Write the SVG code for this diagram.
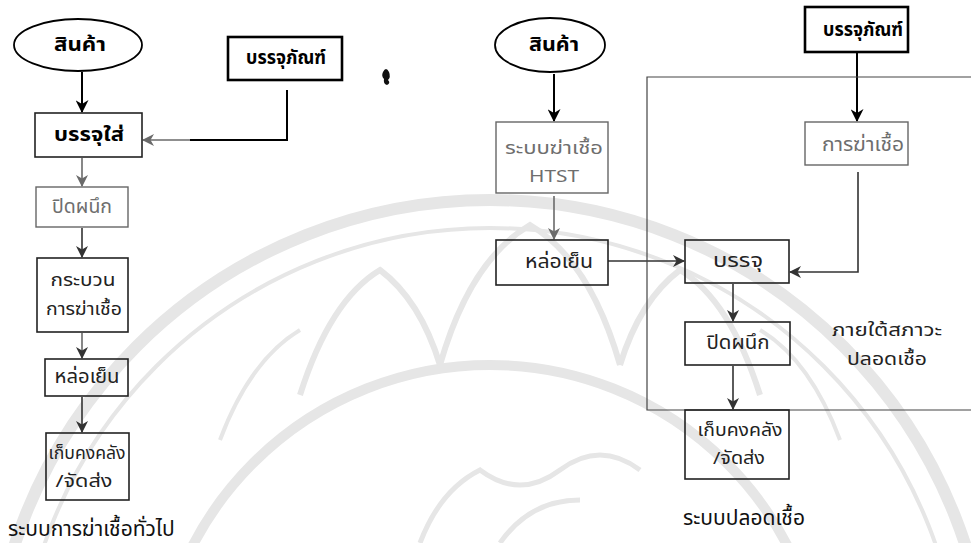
<svg xmlns="http://www.w3.org/2000/svg" width="971" height="543" viewBox="0 0 971 543">
  <defs>
    <style>
      .lbl { font-family: "Noto Sans Thai", "Noto Sans", "DejaVu Sans", sans-serif; font-size: 19px; text-anchor: middle; dominant-baseline: central; fill: #222; }
      .two { font-size: 17px; }
      .bold { font-weight: bold; font-size: 19px; fill: #000; }
      .grey { fill: #6e6e6e; }
      .cap { font-family: "Noto Sans Thai", "Noto Sans", "DejaVu Sans", sans-serif; font-size: 21px; dominant-baseline: central; fill: #111; }
      .box { fill: none; stroke: #222; stroke-width: 1.6; }
      .boxg { fill: none; stroke: #666; stroke-width: 1.4; }
      .thick { fill: none; stroke: #000; stroke-width: 2.6; }
      .edge { fill: none; stroke: #333; stroke-width: 1.6; }
      .edgek { fill: none; stroke: #000; stroke-width: 2; }
      .edgeg { fill: none; stroke: #6a6a6a; stroke-width: 1.6; }
      .frame { fill: none; stroke: #444; stroke-width: 1.2; }
      .wm { fill: none; stroke: #e6e6e6; }
    </style>
    <marker id="ah" viewBox="0 0 12 12" refX="11" refY="6" markerWidth="12" markerHeight="12" markerUnits="userSpaceOnUse" orient="auto">
      <path d="M0,0 L12,6 L0,12 L3.5,6 z" fill="#333"/>
    </marker>
    <marker id="ahk" viewBox="0 0 12 12" refX="11" refY="6" markerWidth="13" markerHeight="13" markerUnits="userSpaceOnUse" orient="auto">
      <path d="M0,0 L12,6 L0,12 L3.5,6 z" fill="#000"/>
    </marker>
    <marker id="ahg" viewBox="0 0 12 12" refX="11" refY="6" markerWidth="12" markerHeight="12" markerUnits="userSpaceOnUse" orient="auto">
      <path d="M0,0 L12,6 L0,12 L3.5,6 z" fill="#6a6a6a"/>
    </marker>
  </defs>

  <rect width="971" height="543" fill="#fff"/>

  <!-- faint emblem in the background -->
  <g id="watermark">
    <circle class="wm" cx="490" cy="700" r="500" stroke-width="12"/>
    <circle class="wm" cx="490" cy="700" r="472" stroke-width="4"/>
    <circle class="wm" cx="490" cy="700" r="335" stroke-width="10"/>
    <path class="wm" stroke-width="6" d="M300,395 Q330,300 380,270 Q420,300 440,365 M440,365 Q470,260 530,225 Q590,260 620,365 M620,365 Q640,300 680,270 Q730,300 760,395"/>
    <path class="wm" stroke-width="4" d="M220,440 Q250,360 300,330 M760,330 Q810,360 840,440"/>
    <path class="wm" stroke-width="5" d="M420,543 Q440,490 480,470 Q520,500 560,470 Q600,440 640,470 M500,543 Q530,500 580,500"/>
  </g>

  <!-- stray ink speck -->
  <path d="M383,72 Q386,66 389,72 Q391,77 388,80 Q391,83 387,85 Q383,84 384,79 Q381,76 383,72 z" fill="#111"/>

  <!-- connectors -->
  <g id="connectors">
    <!-- general sterilization flow -->
    <line class="edgek" x1="82" y1="72" x2="82" y2="112" marker-end="url(#ahk)"/>
    <polyline class="edgek" points="287,90 287,140 190,140" />
    <line class="edgeg" x1="190" y1="140" x2="143" y2="140" marker-end="url(#ahg)"/>
    <line class="edgeg" x1="82" y1="158" x2="82" y2="186" marker-end="url(#ahg)"/>
    <line class="edge" x1="82" y1="228" x2="82" y2="257" marker-end="url(#ah)"/>
    <line class="edgeg" x1="82" y1="333" x2="82" y2="358" marker-end="url(#ah)"/>
    <line class="edge" x1="82" y1="397" x2="82" y2="432" marker-end="url(#ah)"/>

    <!-- aseptic flow -->
    <line class="edgek" x1="554" y1="74" x2="554" y2="121" marker-end="url(#ahk)"/>
    <line class="edgeg" x1="554" y1="196" x2="554" y2="239" marker-end="url(#ahg)"/>
    <line class="edge" x1="608" y1="261" x2="684" y2="261" marker-end="url(#ah)"/>
    <line class="edgek" x1="857" y1="52" x2="857" y2="121" marker-end="url(#ahk)"/>
    <polyline class="edge" points="858,172 858,272 790,272" marker-end="url(#ah)"/>
    <line class="edge" x1="733" y1="284" x2="733" y2="321" marker-end="url(#ah)"/>
    <line class="edge" x1="733" y1="366" x2="733" y2="409" marker-end="url(#ah)"/>

    <!-- aseptic zone boundary -->
    <polyline class="frame" points="971,77 647,77 647,410 971,410"/>
  </g>

  <!-- general sterilization nodes -->
  <g id="product-a">
    <ellipse cx="78" cy="45" rx="64" ry="26" fill="#fff" stroke="#000" stroke-width="1.8"/>
    <text class="lbl bold" x="80" y="45" textLength="52" lengthAdjust="spacingAndGlyphs">สินค้า</text>
  </g>
  <g id="package-a">
    <rect class="thick" x="228" y="37" width="114" height="43"/>
    <text class="lbl bold" x="286" y="58" textLength="80" lengthAdjust="spacingAndGlyphs">บรรจุภัณฑ์</text>
  </g>
  <g id="fill-a">
    <rect class="box" x="35" y="113" width="107" height="44"/>
    <text class="lbl bold" x="89" y="135" textLength="70" lengthAdjust="spacingAndGlyphs">บรรจุใส่</text>
  </g>
  <g id="seal-a">
    <rect class="boxg" x="36" y="187" width="92" height="40"/>
    <text class="lbl grey" x="82" y="207" textLength="60" lengthAdjust="spacingAndGlyphs">ปิดผนึก</text>
  </g>
  <g id="sterilize-a">
    <rect class="box" x="37" y="258" width="91" height="74"/>
    <text class="lbl two" x="83" y="281" textLength="65" lengthAdjust="spacingAndGlyphs">กระบวน</text>
    <text class="lbl two" x="84" y="310" textLength="76" lengthAdjust="spacingAndGlyphs">การฆ่าเชื้อ</text>
  </g>
  <g id="cool-a">
    <rect class="box" x="45" y="359" width="83" height="37"/>
    <text class="lbl" x="87" y="377" textLength="65" lengthAdjust="spacingAndGlyphs">หล่อเย็น</text>
  </g>
  <g id="store-a">
    <rect class="box" x="46" y="433" width="83" height="67"/>
    <text class="lbl two" x="87" y="454" textLength="77" lengthAdjust="spacingAndGlyphs">เก็บคงคลัง</text>
    <text class="lbl two" x="84" y="482" textLength="57" lengthAdjust="spacingAndGlyphs">/จัดส่ง</text>
  </g>
  <text class="cap" x="8" y="529">ระบบการฆ่าเชื้อทั่วไป</text>

  <!-- aseptic nodes -->
  <g id="product-b">
    <ellipse cx="550" cy="45" rx="55" ry="27" fill="#fff" stroke="#000" stroke-width="1.8"/>
    <text class="lbl bold" x="554" y="45" textLength="50" lengthAdjust="spacingAndGlyphs">สินค้า</text>
  </g>
  <g id="htst">
    <rect class="boxg" x="496" y="122" width="112" height="71"/>
    <text class="lbl grey two" x="554" y="149" textLength="98" lengthAdjust="spacingAndGlyphs">ระบบฆ่าเชื้อ</text>
    <text class="lbl grey two" x="554" y="177" textLength="50" lengthAdjust="spacingAndGlyphs">HTST</text>
  </g>
  <g id="cool-b">
    <rect class="box" x="496" y="240" width="112" height="45"/>
    <text class="lbl" x="559" y="262" textLength="68" lengthAdjust="spacingAndGlyphs">หล่อเย็น</text>
  </g>
  <g id="package-b">
    <rect class="thick" x="805" y="7" width="103" height="45"/>
    <text class="lbl bold" x="863" y="30" textLength="80" lengthAdjust="spacingAndGlyphs">บรรจุภัณฑ์</text>
  </g>
  <g id="sterilize-b">
    <rect class="boxg" x="805" y="122" width="103" height="43"/>
    <text class="lbl grey" x="863" y="145" textLength="82" lengthAdjust="spacingAndGlyphs">การฆ่าเชื้อ</text>
  </g>
  <g id="fill-b">
    <rect class="box" x="685" y="240" width="104" height="43"/>
    <text class="lbl" x="738" y="261" textLength="50" lengthAdjust="spacingAndGlyphs">บรรจุ</text>
  </g>
  <g id="seal-b">
    <rect class="box" x="685" y="322" width="105" height="43"/>
    <text class="lbl" x="738" y="343" textLength="63" lengthAdjust="spacingAndGlyphs">ปิดผนึก</text>
  </g>
  <g id="store-b">
    <rect class="box" x="685" y="410" width="104" height="69"/>
    <text class="lbl two" x="740" y="431" textLength="85" lengthAdjust="spacingAndGlyphs">เก็บคงคลัง</text>
    <text class="lbl two" x="739" y="459" textLength="52" lengthAdjust="spacingAndGlyphs">/จัดส่ง</text>
  </g>
  <g id="zone-label">
    <text class="lbl two" x="887" y="331" textLength="110" lengthAdjust="spacingAndGlyphs">ภายใต้สภาวะ</text>
    <text class="lbl two" x="887" y="360" textLength="80" lengthAdjust="spacingAndGlyphs">ปลอดเชื้อ</text>
  </g>
  <text class="cap" x="744" y="518" text-anchor="middle">ระบบปลอดเชื้อ</text>
</svg>
